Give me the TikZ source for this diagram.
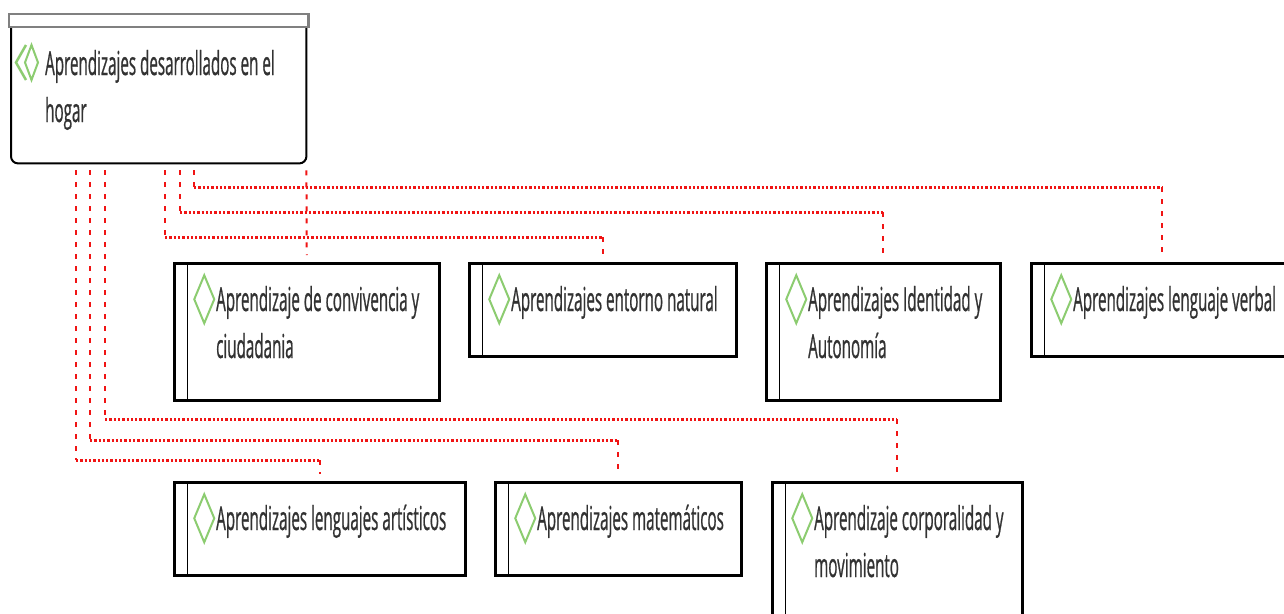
\documentclass[tikz,border=0pt]{standalone}
\usepackage{fontspec}
\newfontfamily\boxfont[FakeStretch=0.46,FakeBold=0.6]{Open Sans}
\definecolor{txtgray}{RGB}{50,50,50}
\definecolor{icongreen}{RGB}{140,204,112}
\definecolor{linkred}{RGB}{240,20,20}
\begin{document}
\begin{tikzpicture}[x=1pt,y=-1pt,
  kidbox/.style={draw,line width=2.5pt,fill=white,anchor=north west,inner sep=0pt,minimum height=93pt,
    path picture={\draw[line width=1.5pt] ([xshift=13pt]path picture bounding box.north west) -- ([xshift=13pt]path picture bounding box.south west);
      \draw[icongreen,line width=2pt] ([shift={(30,12)}]path picture bounding box.north west) -- ++(10,24) -- ++(-10,24) -- ++(-10,-24) -- cycle;}},
  kidtext/.style={anchor=base west,inner sep=0pt,align=left,text=txtgray,font=\boxfont\fontsize{33}{47}\selectfont},
  vlink/.style={linkred,line width=2pt,dash pattern=on 5pt off 7pt},
  hlink/.style={linkred,line width=2.5pt,dash pattern=on 2.3pt off 2pt}]
\clip (0,0) rectangle (1284,613);
\fill[white] (0,0) rectangle (1284,613);
\node[anchor=north west,inner sep=0pt,minimum width=295pt,minimum height=136pt] (root) at (11,27) {};
\draw[line width=2pt,rounded corners=7pt] (root.north west) -- (root.south west) -- (root.south east) -- (root.north east);
\draw[gray,line width=2.5pt,fill=white] ([shift={(-2,-13)}]root.north west) rectangle ([shift={(2,0)}]root.north east);
\draw[icongreen,line width=2.5pt] ([shift={(15,18)}]root.north west) -- ++(-10,17.5) -- ++(10,17.5);
\draw[icongreen,line width=2pt] ([shift={(20.5,18)}]root.north west) -- ++(6.5,17.5) -- ++(-6.5,17.5) -- ++(-6.5,-17.5) -- cycle;
\node[kidtext] (t0) at ([shift={(34,95)}]root.north west) {Aprendizajes desarrollados en el\\hogar};
\node[kidbox,minimum width=265pt,minimum height=137pt] (c1) at (173,262) {};
\node[kidtext] (t1) at ([shift={(43,96)}]c1.north west) {Aprendizaje de convivencia y\\ciudadania};
\node[kidbox,minimum width=267pt] (c2) at (468,262) {};
\node[kidtext] (t2) at ([shift={(43,49)}]c2.north west) {Aprendizajes entorno natural};
\node[kidbox,minimum width=234pt,minimum height=137pt] (c3) at (765,262) {};
\node[kidtext] (t3) at ([shift={(43,96)}]c3.north west) {Aprendizajes Identidad y\\Autonomía};
\node[kidbox,minimum width=262pt] (c4) at (1030,262) {};
\node[kidtext] (t4) at ([shift={(43,49)}]c4.north west) {Aprendizajes lenguaje verbal};
\node[kidbox,minimum width=291pt] (c5) at (173,481) {};
\node[kidtext] (t5) at ([shift={(43,49)}]c5.north west) {Aprendizajes lenguajes artísticos};
\node[kidbox,minimum width=246pt] (c6) at (494,481) {};
\node[kidtext] (t6) at ([shift={(43,49)}]c6.north west) {Aprendizajes matemáticos};
\node[kidbox,minimum width=250pt,minimum height=150pt] (c7) at (771,481) {};
\node[kidtext] (t7) at ([shift={(43,96)}]c7.north west) {Aprendizaje corporalidad y\\movimiento};
\draw[vlink] ([yshift=-7pt]root.south east) -- ([yshift=7pt]c1.north);
\foreach \dx/\by/\kid in {154/237/c2,169/212/c3,183/187/c4,65/460/c5,79/440/c6,94/419/c7}{
  \coordinate (a) at ([shift={(\dx,7)}]root.south west);
  \coordinate (b) at ([shift={(0,\by-170)}]a);
  \draw[vlink] (a) -- (b);
  \draw[hlink] (b) -- (b -| \kid.north);
  \draw[vlink] (b -| \kid.north) -- ([yshift=7pt]\kid.north);
}
\end{tikzpicture}
\end{document}
